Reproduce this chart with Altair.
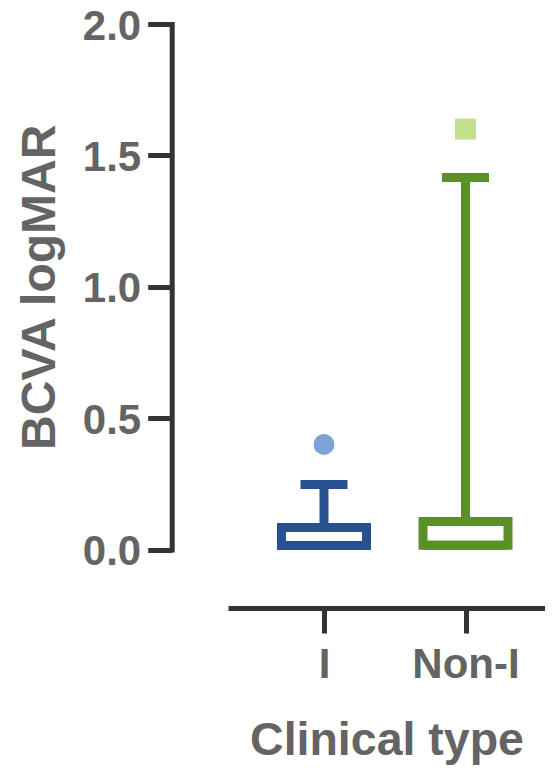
import altair as alt
import pandas as pd

# ---- data ----
groups = ["I", "Non-I"]
q1 = [0.015, 0.016]
median = [0.015, 0.016]
q3 = [0.084, 0.107]
whisker_high = [0.247, 1.416]
outlier_groups = ["I", "Non-I"]
outlier_values = [0.40, 1.60]
y_ticks = [0.0, 0.5, 1.0, 1.5, 2.0]

# ---- styles ----
box_colors = ["#27528f", "#5a9028"]
outlier_colors = ["#7ba3d8", "#c2e08a"]
outlier_shapes = ["circle", "square"]
FONT = "Liberation Sans"
AXIS_COL = "#333333"
TEXT_COL = "#646464"

box_df = pd.DataFrame({"group": groups, "q1": q1, "median": median,
                       "q3": q3, "hi": whisker_high})
out_df = pd.DataFrame({"group": outlier_groups, "value": outlier_values})

x_axis = alt.Axis(offset=58.5, tickSize=25, tickWidth=5, domainWidth=5,
                  domainColor=AXIS_COL, tickColor=AXIS_COL, labelAngle=0,
                  labelColor=TEXT_COL, labelFont=FONT, labelFontSize=42,
                  labelFontWeight="bold", labelPadding=11,
                  titleFont=FONT, titleFontSize=46.5, titleFontWeight="bold",
                  titleColor=TEXT_COL, titlePadding=32, grid=False)
y_axis = alt.Axis(values=y_ticks, format=".1f", offset=56.3, tickSize=24,
                  tickWidth=5, domainWidth=5, domainCap="square",
                  domainColor=AXIS_COL, tickColor=AXIS_COL,
                  labelColor=TEXT_COL, labelFont=FONT, labelFontSize=42,
                  labelFontWeight="bold", labelPadding=7,
                  labelBaseline="alphabetic", labelOffset=15,
                  titleFont=FONT, titleFontSize=48, titleFontWeight="bold",
                  titleColor=TEXT_COL, titlePadding=18, grid=False)

x_scale = alt.Scale(type="point", domain=groups, padding=0.62, align=0.547)
y_scale = alt.Scale(domain=[0, 2], nice=False, zero=False)
col_scale = alt.Scale(domain=groups, range=box_colors)


def X():
    return alt.X("group:N", scale=x_scale, axis=x_axis, title="Clinical type")


def Y(field):
    return alt.Y(f"{field}:Q", scale=y_scale, axis=y_axis, title="BCVA logMAR")


base = alt.Chart(box_df)

whisker = base.mark_rule(strokeWidth=9).encode(
    x=X(), y=Y("q3"), y2="hi:Q",
    color=alt.Color("group:N", scale=col_scale, legend=None))

box = base.mark_bar(size=85, fill="white", strokeWidth=9, strokeJoin="miter").encode(
    x=X(), y=Y("q1"), y2="q3:Q",
    stroke=alt.Stroke("group:N", scale=col_scale, legend=None))

med = base.mark_tick(size=85, thickness=9, orient="horizontal", opacity=1).encode(
    x=X(), y=Y("median"),
    color=alt.Color("group:N", scale=col_scale, legend=None))

cap = base.mark_tick(size=47, thickness=9, orient="horizontal", opacity=1).encode(
    x=X(), y=Y("hi"),
    color=alt.Color("group:N", scale=col_scale, legend=None))

outliers = alt.Chart(out_df).mark_point(filled=True, opacity=1, size=441).encode(
    x=X(), y=Y("value"),
    fill=alt.Fill("group:N", scale=alt.Scale(domain=groups, range=outlier_colors), legend=None),
    shape=alt.Shape("group:N", scale=alt.Scale(domain=groups, range=outlier_shapes), legend=None))

chart = alt.layer(whisker, box, med, cap, outliers).resolve_scale(
    color="independent"
).properties(
    width=317, height=525.5,
    autosize=alt.AutoSizeParams(type="none"),
    padding={"left": 220, "top": 16, "right": 0, "bottom": 215.5},
).configure_view(stroke=None)

chart.save("out.html", embed_options={"renderer": "svg", "actions": False})
